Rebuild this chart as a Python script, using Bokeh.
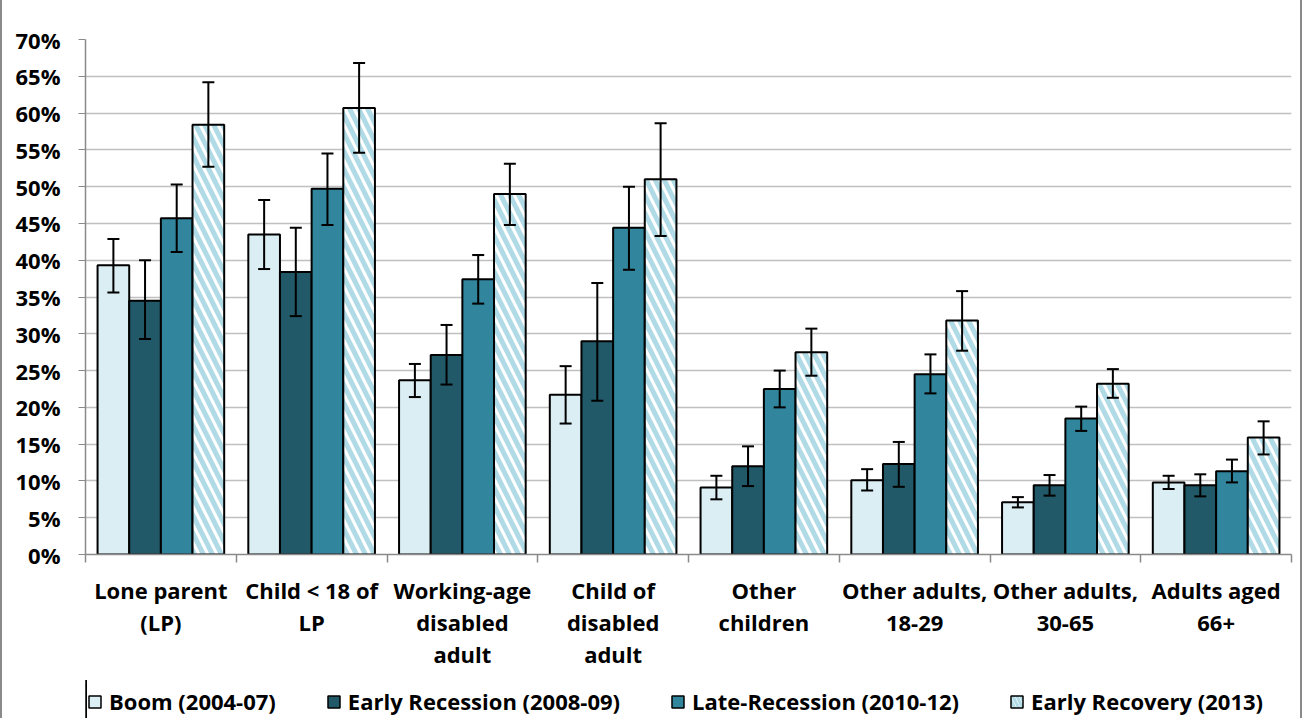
from bokeh.plotting import figure
from bokeh.layouts import column
from bokeh.models import (ColumnDataSource, Range1d, LinearAxis, CustomJSTickFormatter,
                          FixedTicker, Whisker, TeeHead, Legend, LegendItem, PrintfTickFormatter)
from bokeh.transform import dodge
from bokeh.embed import file_html
from bokeh.resources import INLINE

categories = ["Lone parent\n(LP)", "Child < 18 of\nLP", "Working-age\ndisabled\nadult",
              "Child of\ndisabled\nadult", "Other\nchildren", "Other adults,\n18-29",
              "Other adults,\n30-65", "Adults aged\n66+"]

series_names = ["Boom (2004-07)", "Early Recession (2008-09)", "Late-Recession (2010-12)",
                "Early Recovery (2013)"]

boom = [39.3, 43.5, 23.7, 21.7, 9.1, 10.1, 7.1, 9.8]
boom_lo = [35.6, 38.8, 21.4, 17.8, 7.5, 8.7, 6.4, 8.9]
boom_hi = [42.9, 48.2, 25.9, 25.6, 10.7, 11.6, 7.8, 10.7]

early_rec = [34.5, 38.4, 27.1, 29.0, 12.0, 12.3, 9.4, 9.4]
early_rec_lo = [29.3, 32.4, 23.1, 20.9, 9.3, 9.2, 8.0, 7.9]
early_rec_hi = [40.0, 44.4, 31.2, 36.9, 14.7, 15.3, 10.8, 10.9]

late_rec = [45.7, 49.7, 37.4, 44.4, 22.5, 24.5, 18.5, 11.3]
late_rec_lo = [41.1, 44.8, 34.1, 38.7, 20.0, 21.9, 16.8, 9.8]
late_rec_hi = [50.3, 54.5, 40.7, 50.0, 25.0, 27.2, 20.1, 12.9]

recovery = [58.4, 60.7, 49.0, 51.0, 27.5, 31.8, 23.2, 15.9]
recovery_lo = [52.7, 54.6, 44.8, 43.3, 24.3, 27.7, 21.3, 13.6]
recovery_hi = [64.2, 66.8, 53.1, 58.6, 30.7, 35.8, 25.2, 18.1]

y_ticks = list(range(0, 71, 5))

FONT = "Open Sans"
FS = "22px"
n = len(categories)
centers = [i + 0.5 for i in range(n)]
bounds = list(range(n + 1))
BORDER = {"border-left": "2px solid #8a8a8a", "border-right": "2px solid #8a8a8a"}

p = figure(frame_width=1202, frame_height=515, x_range=Range1d(0, n),
           y_range=Range1d(0, 70), output_backend="svg", toolbar_location=None,
           x_axis_location=None, min_border_left=83, min_border_top=39, min_border_right=13,
           min_border_bottom=126)
p.styles = BORDER
p.outline_line_color = None
p.xgrid.grid_line_color = None
p.ygrid.grid_line_color = "#c0c0c0"
p.ygrid.grid_line_width = 1.5
p.yaxis.ticker = FixedTicker(ticks=y_ticks)
p.yaxis.formatter = PrintfTickFormatter(format="%d%%")
p.yaxis.axis_line_color = "#8a8a8a"
p.yaxis.axis_line_width = 1.5
p.yaxis.major_tick_line_color = "#8a8a8a"
p.yaxis.major_tick_out = 7
p.yaxis.major_tick_in = 0
p.yaxis.minor_tick_line_color = None
p.yaxis.major_label_text_font = FONT
p.yaxis.major_label_text_font_style = "bold"
p.yaxis.major_label_text_font_size = FS
p.yaxis.major_label_text_color = "black"
p.yaxis.major_label_standoff = 18

cat_axis = LinearAxis(ticker=FixedTicker(ticks=centers, minor_ticks=bounds),
                      formatter=CustomJSTickFormatter(args=dict(labels=categories),
                                                      code="return labels[Math.floor(tick)];"),
                      axis_line_color="#8a8a8a", axis_line_width=1.5,
                      major_tick_line_color=None, major_tick_out=8, major_tick_in=0,
                      minor_tick_line_color="#8a8a8a", minor_tick_line_width=1.5,
                      minor_tick_out=8, minor_tick_in=0,
                      major_label_text_font=FONT, major_label_text_font_style="bold",
                      major_label_text_font_size=FS, major_label_text_color="black",
                      major_label_text_line_height=1.07, major_label_standoff=12)
p.add_layout(cat_axis, "below")

# legend strip (same frame geometry as the chart; its range keeps the proxy bars out of view)
lg = figure(frame_width=1202, frame_height=38, output_backend="svg", toolbar_location=None,
            x_axis_location=None, y_axis_location=None,
            x_range=Range1d(100, 101), y_range=Range1d(0, 1),
            min_border_left=83, min_border_right=13, min_border_top=0, min_border_bottom=0)
lg.styles = BORDER
lg.outline_line_color = None
lg.grid.visible = False

data = [(boom, boom_lo, boom_hi), (early_rec, early_rec_lo, early_rec_hi),
        (late_rec, late_rec_lo, late_rec_hi), (recovery, recovery_lo, recovery_hi)]
fills = ["#dbeef4", "#215968", "#31859c", "white"]
offsets = [-0.315, -0.105, 0.105, 0.315]
items = []
for (vals, lo, hi), name, fc, off in zip(data, series_names, fills, offsets):
    src = ColumnDataSource(dict(x=centers, top=vals, lower=lo, upper=hi))
    kw = {}
    if fc == "white":
        kw = dict(hatch_pattern="\\", hatch_color="#b0dbe6", hatch_weight=5, hatch_scale=18)
    p.vbar(x=dodge("x", off), top="top", width=0.21, source=src,
           fill_color=fc, line_color="black", line_width=2, **kw)
    w = Whisker(base=dodge("x", off), upper="upper", lower="lower", source=src,
                line_color="black", line_width=2, level="annotation",
                upper_head=TeeHead(size=12, line_width=2, line_color="black"),
                lower_head=TeeHead(size=12, line_width=2, line_color="black"))
    p.add_layout(w)
    lkw = {}
    if fc == "white":
        lkw = dict(hatch_pattern="\\", hatch_color="#b0dbe6", hatch_weight=3, hatch_scale=8)
    proxy = lg.vbar(x=dodge("x", off), top="top", width=0.21, source=src,
                    fill_color=fc, line_color="black", line_width=1.5, **lkw)
    items.append(LegendItem(label=name, renderers=[proxy]))

legend = Legend(items=items, orientation="horizontal", location=(2, 2),
                label_text_font=FONT, label_text_font_style="bold", label_text_font_size=FS,
                label_text_color="black", glyph_width=15, glyph_height=15, label_standoff=7,
                spacing=50, border_line_color=None, background_fill_alpha=0,
                padding=2, margin=0)
lg.add_layout(legend, "center")

layout = column(p, lg, spacing=0)
open("out.html", "w").write(file_html(layout, INLINE))
